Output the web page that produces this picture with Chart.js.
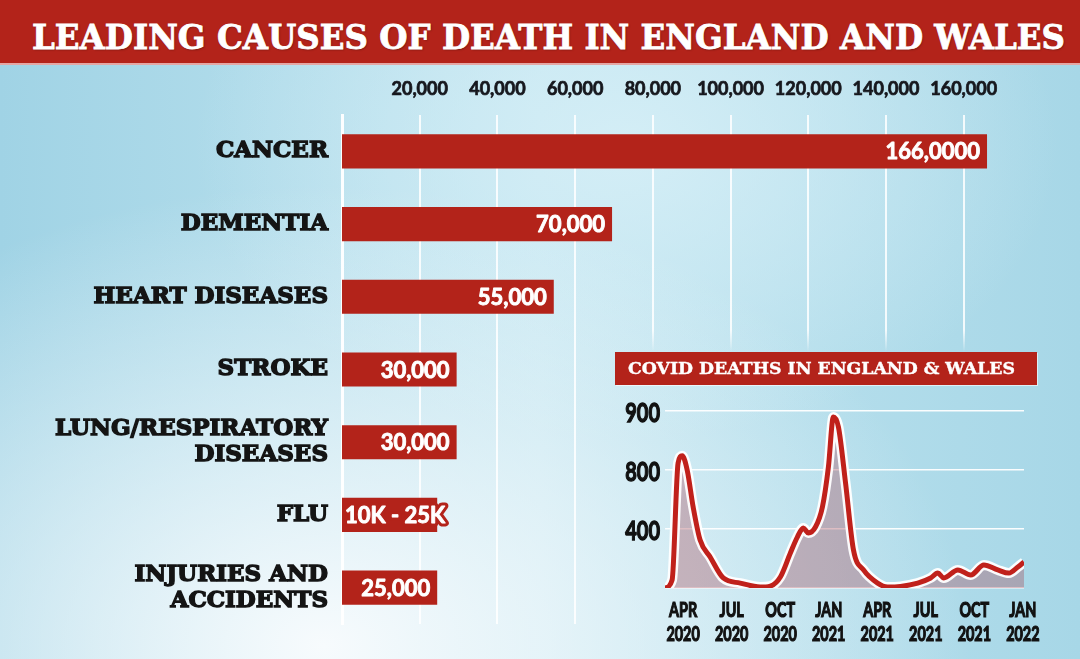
<!DOCTYPE html>
<html>
<head>
<meta charset="utf-8">
<script src="https://cdn.jsdelivr.net/npm/chart.js@4.4.1/dist/chart.umd.min.js"></script>
<style>
  html, body { margin: 0; padding: 0; }
  body {
    width: 1080px; height: 659px; position: relative; overflow: hidden;
    background:
      radial-gradient(ellipse 60% 70% at 30% 98%, rgba(247,251,253,1) 0%, rgba(247,251,253,0) 100%),
      radial-gradient(ellipse 40% 45% at 58% 22%, rgba(214,239,247,0.9) 0%, rgba(214,239,247,0) 100%),
      linear-gradient(90deg, #a0d3e5 0%, #c2e5f0 50%, #a7d7e7 100%);
  }
  #banner {
    position: absolute; left: 0; top: 0; width: 1080px; height: 63px;
    background: #b3231a; border-bottom: 2px solid rgba(240,200,200,0.8);
  }
  .fit {
    position: absolute; white-space: nowrap; color: #fff;
    font-family: "DejaVu Serif", serif; font-weight: bold;
    transform-origin: 0 50%;
  }
  #title { left: 32px; top: 16px; font-size: 34px; line-height: 42px;
    -webkit-text-stroke: 0.8px #fff; text-shadow: 1px 1px 2px rgba(0,0,0,0.35); }
  #insetBox {
    position: absolute; left: 615px; top: 352px; width: 422px; height: 33px;
    background: #b3231a; box-shadow: 1px 1px 0 rgba(255,255,255,0.6);
  }
  #insetTitle { left: 628px; top: 356px; font-size: 17px; line-height: 25px; -webkit-text-stroke: 0.4px #fff; }
  #mainChart { position: absolute; left: 0; top: 0; }
  #covidChart { position: absolute; left: 560px; top: 380px; }
</style>
</head>
<body>
<canvas id="mainChart" width="1080" height="659"></canvas>
<div id="banner"></div>
<div id="title" class="fit" data-w="1033">LEADING CAUSES OF DEATH IN ENGLAND AND WALES</div>
<div id="insetBox"></div>
<div id="insetTitle" class="fit" data-w="387">COVID DEATHS IN ENGLAND &amp; WALES</div>
<canvas id="covidChart" width="520" height="279"></canvas>
<script>
// main bars
var causes = ['CANCER', 'DEMENTIA', 'HEART DISEASES', 'STROKE',
    ['LUNG/RESPIRATORY', 'DISEASES'], 'FLU', ['INJURIES AND', 'ACCIDENTS']];
var deaths = [166000, 69500, 54500, 29500, 29500, 24500, 24500];
var deathLabels = ['166,0000', '70,000', '55,000', '30,000', '30,000', '10K - 25K', '25,000'];
var deathTicks = [20000, 40000, 60000, 80000, 100000, 120000, 140000, 160000];

// covid inset: months from Jan 2020, values read against the inset's gridlines
var covidMonth = [1.88, 2.32, 2.69, 2.94, 3.25, 3.62, 4.05, 4.67, 5.48, 6.53, 7.77, 8.39, 9.01, 9.63,
    10.06, 10.43, 10.74, 11.18, 11.61, 11.98, 12.29, 12.60, 13.04, 13.53, 14.15, 15.02, 15.64,
    16.44, 17.50, 18.30, 18.74, 19.11, 19.98, 20.78, 21.59, 22.45, 23.14, 23.69, 24.07];
var covidDeaths = [0, 41, 636, 672, 600, 412, 244, 158, 51, 25, 5, 10, 56, 178,
    259, 305, 280, 310, 412, 615, 870, 819, 534, 193, 92, 25, 5,
    8, 25, 51, 76, 51, 92, 66, 117, 92, 76, 107, 132];
var covidTickMonth = [3, 6, 9, 12, 15, 18, 21, 24];
var covidTickLabels = [['APR', '2020'], ['JUL', '2020'], ['OCT', '2020'], ['JAN', '2021'],
    ['APR', '2021'], ['JUL', '2021'], ['OCT', '2021'], ['JAN', '2022']];
var covidGridValues = [0, 300, 600, 900];
var covidGridLabels = ['', '400', '800', '900'];

var red = '#b3231a';

// squeeze the banner titles to the width they have in the original
document.querySelectorAll('.fit').forEach(function(el) {
    var w = el.getBoundingClientRect().width;
    el.style.transform = 'scaleX(' + (el.dataset.w / w) + ')';
});

var barLabelPlugin = {
    id: 'barLabels',
    afterDatasetsDraw: function(chart) {
        var ctx = chart.ctx;
        var bars = chart.getDatasetMeta(0).data;
        ctx.save();
        ctx.font = 'bold 22px Lato, sans-serif';
        ctx.textBaseline = 'middle';
        ctx.lineJoin = 'round';
        bars.forEach(function(bar, i) {
            var text = deathLabels[i];
            var tw = ctx.measureText(text).width;
            var x = bar.x - 7;
            ctx.textAlign = 'right';
            if (tw > bar.x - bar.base - 12) {
                // label wider than its bar: red halo round it
                ctx.textAlign = 'left';
                x = bar.base + 3;
                ctx.lineWidth = 7;
                ctx.strokeStyle = red;
                ctx.strokeText(text, x, bar.y + 1);
            }
            ctx.lineWidth = 0.9;
            ctx.strokeStyle = '#fff';
            ctx.strokeText(text, x, bar.y + 1);
            ctx.fillStyle = '#fff';
            ctx.fillText(text, x, bar.y + 1);
        });
        ctx.restore();
    }
};

var mainCtx = document.getElementById('mainChart').getContext('2d');
new Chart(mainCtx, {
    type: 'bar',
    data: {
        labels: causes,
        datasets: [{
            data: deaths,
            backgroundColor: red,
            barPercentage: 0.47,
            categoryPercentage: 1
        }]
    },
    options: {
        indexAxis: 'y',
        responsive: false,
        animation: false,
        layout: { padding: { left: 0, right: 58, top: 0, bottom: 35 } },
        plugins: { legend: { display: false }, tooltip: { enabled: false } },
        scales: {
            x: {
                position: 'top',
                min: 0,
                max: 175000,
                afterBuildTicks: function(s) { s.ticks = deathTicks.map(function(v) { return { value: v }; }); },
                afterFit: function(s) { s.height = 115; },
                ticks: {
                    color: '#16171d',
                    font: { family: 'Lato', weight: 'bold', size: 18 },
                    textStrokeColor: '#16171d',
                    textStrokeWidth: 0.7,
                    padding: 15,
                    maxRotation: 0,
                    callback: function(v) { return v.toLocaleString('en-US'); }
                },
                grid: {
                    drawTicks: false,
                    lineWidth: 2,
                    color: function(c) {
                        if (c.tick && c.tick.value >= 80000) {
                            var g = c.chart.ctx.createLinearGradient(0, 330, 0, 352);
                            g.addColorStop(0, 'rgba(255,255,255,0.85)');
                            g.addColorStop(1, 'rgba(255,255,255,0)');
                            return g;
                        }
                        return 'rgba(255,255,255,0.85)';
                    }
                },
                border: { display: false }
            },
            y: {
                afterFit: function(s) { s.width = 342; },
                ticks: {
                    color: '#141414',
                    font: { family: 'DejaVu Serif', weight: 'bold', size: 23, lineHeight: 1.13 },
                    textStrokeColor: '#141414',
                    textStrokeWidth: 1.4,
                    padding: 14
                },
                grid: { display: false, drawTicks: false },
                border: { display: true, color: 'rgba(255,255,255,0.95)', width: 3 }
            }
        }
    },
    plugins: [barLabelPlugin]
});

// inset tick labels are tall and condensed: draw them squeezed at the scale's own positions
var condensedTicks = {
    id: 'condensedTicks',
    afterDraw: function(chart) {
        var ctx = chart.ctx;
        var xs = chart.scales.x, ys = chart.scales.y;
        ctx.save();
        ctx.fillStyle = '#111';
        ctx.strokeStyle = '#111';
        ctx.textBaseline = 'middle';
        ctx.font = 'bold 20px Lato, sans-serif';
        ctx.textAlign = 'center';
        xs.ticks.forEach(function(t, i) {
            var px = xs.getPixelForValue(t.value);
            covidTickLabels[i].forEach(function(line, k) {
                ctx.save();
                ctx.translate(px, xs.top + 23 + k * 24);
                ctx.scale(0.72, 1);
                ctx.lineWidth = 1.2;
                ctx.strokeText(line, 0, 0);
                ctx.fillText(line, 0, 0);
                ctx.restore();
            });
        });
        ctx.font = 'bold 27px Lato, sans-serif';
        ctx.textAlign = 'right';
        ys.ticks.forEach(function(t, i) {
            var py = ys.getPixelForValue(t.value);
            ctx.save();
            ctx.translate(ys.right - 5, py + 2);
            ctx.scale(0.74, 1);
            ctx.lineWidth = 1.3;
            ctx.strokeText(covidGridLabels[i], 0, 0);
            ctx.fillText(covidGridLabels[i], 0, 0);
            ctx.restore();
        });
        ctx.restore();
    }
};

var covidPoints = covidMonth.map(function(m, i) { return { x: m, y: covidDeaths[i] }; });
var covidCtx = document.getElementById('covidChart').getContext('2d');
new Chart(covidCtx, {
    type: 'line',
    data: {
        datasets: [{
            data: covidPoints,
            borderColor: '#c0211b',
            borderWidth: 5,
            fill: false,
            pointRadius: 0,
            cubicInterpolationMode: 'monotone'
        }, {
            data: covidPoints,
            borderColor: 'rgba(255,255,255,0.95)',
            borderWidth: 10,
            backgroundColor: 'rgba(165,75,90,0.36)',
            fill: 'origin',
            pointRadius: 0,
            cubicInterpolationMode: 'monotone'
        }]
    },
    options: {
        responsive: false,
        animation: false,
        layout: { padding: { left: 0, right: 56, top: 31, bottom: 0 } },
        plugins: { legend: { display: false }, tooltip: { enabled: false } },
        scales: {
            x: {
                type: 'linear',
                min: covidMonth[0],
                max: covidMonth[covidMonth.length - 1],
                afterBuildTicks: function(s) { s.ticks = covidTickMonth.map(function(v) { return { value: v }; }); },
                afterFit: function(s) { s.height = 71; },
                ticks: { display: false },
                grid: { display: false },
                border: { display: false }
            },
            y: {
                min: 0,
                max: 900,
                afterBuildTicks: function(s) { s.ticks = covidGridValues.map(function(v) { return { value: v }; }); },
                afterFit: function(s) { s.width = 105; },
                ticks: { display: false },
                grid: { color: 'rgba(255,255,255,0.95)', lineWidth: 1.5, drawTicks: false },
                border: { display: false }
            }
        }
    },
    plugins: [condensedTicks]
});
</script>
</body>
</html>
